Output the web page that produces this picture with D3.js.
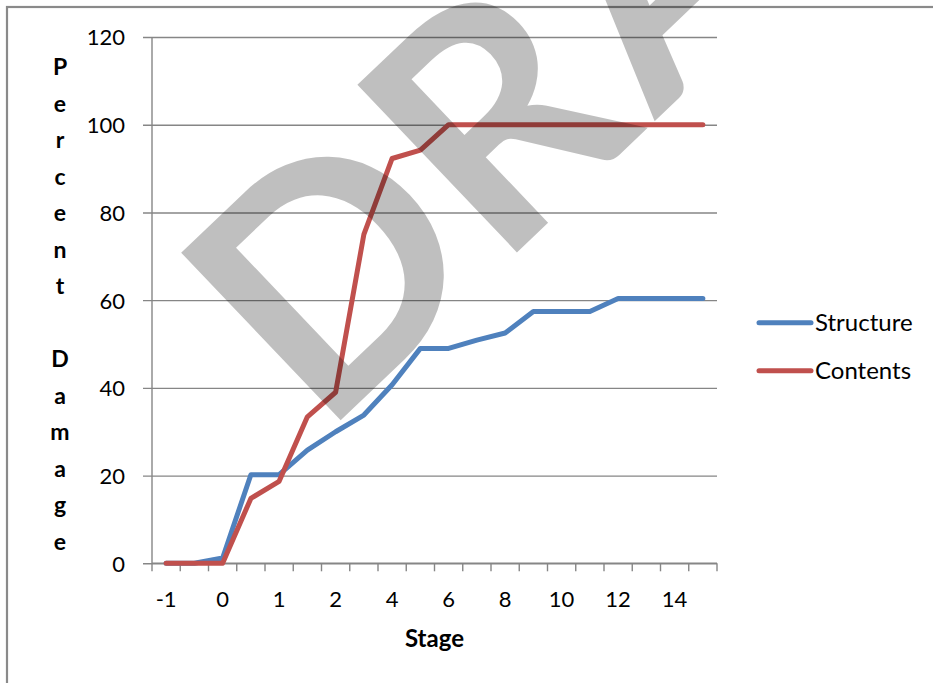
<!DOCTYPE html>
<html><head><meta charset="utf-8">
<script src="https://cdn.jsdelivr.net/npm/d3@7"></script>
<style>body{margin:0;background:#fff} svg{display:block} text{font-family:Lato, "Open Sans", sans-serif}</style>
</head><body><svg id="c" width="933" height="683"></svg>
<script>
const stages = ["-1","-0.5","0","0.5","1","1.5","2","3","4","5","6","7","8","9","10","11","12","13","14","15"];
const shownStageLabels = ["-1","0","1","2","4","6","8","10","12","14"];
const structure = [0,0,1.2,20.2,20.2,25.8,30,33.8,40.7,49,49,50.9,52.5,57.4,57.4,57.4,60.4,60.4,60.4,60.4];
const contents  = [0,0,0,14.8,18.7,33.4,39,75,92.3,94.2,100,100,100,100,100,100,100,100,100,100];
const yTicks = [0,20,40,60,80,100,120];
const seriesNames = ["Structure","Contents"];
const seriesColors = ["#4F81BD","#C0504D"];
const yTitle = "Percent Damage";
const xTitle = "Stage";
const watermark = "DRAFT";

const svg = d3.select("#c");
const x = d3.scaleBand().domain(stages).range([152,717]).paddingInner(0).paddingOuter(0);
const y = d3.scaleLinear().domain([0,120]).range([563.3,37]);
const cx = s => x(s) + x.bandwidth()/2;

// page frame
svg.append("rect").attr("x",7).attr("y",7).attr("width",1000).attr("height",1000)
  .attr("fill","none").attr("stroke","#8a8a8a").attr("stroke-width",2.2);

// gridlines + y tick labels
const gy = svg.append("g").attr("transform","translate(717,0)");
gy.call(d3.axisLeft(y).tickValues(yTicks).tickSize(717-143).tickFormat(d=>d));
gy.select(".domain").remove();
gy.selectAll(".tick line").attr("stroke","#868686").attr("stroke-width",1.4);
gy.selectAll(".tick text").attr("x",-(717-125)).attr("text-anchor","end")
  .attr("dy","0.36em").style("font-size","22px").attr("fill","#000");

// y axis line
svg.append("line").attr("x1",152).attr("x2",152).attr("y1",y(120)).attr("y2",y(0))
  .attr("stroke","#868686").attr("stroke-width",1.4);

// x axis
const gx = svg.append("g").attr("transform",`translate(0,${y(0)})`);
gx.call(d3.axisBottom(x).tickSize(0).tickFormat(d => shownStageLabels.includes(d) ? d : ""));
gx.select(".domain").attr("stroke","#868686").attr("stroke-width",1.4).attr("d",`M152,0H717`);
gx.selectAll(".tick text").attr("y",44).attr("dy",0).style("font-size","22px").attr("fill","#000");
const bounds = stages.map(s => x(s)).concat([x(stages[stages.length-1]) + x.bandwidth()]);
gx.selectAll(".bt").data(bounds).join("line").attr("class","bt")
  .attr("x1",d=>d).attr("x2",d=>d).attr("y1",0).attr("y2",8)
  .attr("stroke","#868686").attr("stroke-width",1.4);

// series lines
const series = [structure, contents];
const line = d3.line().x((d,i)=>cx(stages[i])).y(d=>y(d));
series.forEach((vals,k)=>{
  svg.append("path").attr("d",line(vals)).attr("fill","none")
    .attr("stroke",seriesColors[k]).attr("stroke-width",5)
    .attr("stroke-linejoin","round").attr("stroke-linecap","round");
});

// axis titles
const chars = yTitle.split("");
svg.append("g").selectAll("text").data(chars).join("text")
  .attr("x",60).attr("y",(d,i)=>75 + i*36.5)
  .attr("text-anchor","middle").style("font-size","23px").style("font-weight","bold")
  .text(d=>d);
svg.append("text").attr("x",(152+717)/2).attr("y",647).attr("text-anchor","middle")
  .style("font-size","24px").style("font-weight","bold").text(xTitle);

// legend
const lg = svg.append("g");
seriesNames.forEach((n,k)=>{
  const ly = 322.7 + k*48;
  lg.append("line").attr("x1",759).attr("x2",811).attr("y1",ly).attr("y2",ly)
    .attr("stroke",seriesColors[k]).attr("stroke-width",5).attr("stroke-linecap","round");
  lg.append("text").attr("x",815).attr("y",ly+8.5).style("font-size","24px").text(n);
});

// watermark
svg.append("text").attr("transform","translate(322,438) rotate(-43.6)")
  .attr("dx","0 0 12 0 0")
  .style("font-size","320px").style("font-weight","bold")
  .attr("fill","#000").attr("fill-opacity",0.25).text(watermark);
</script></body></html>
